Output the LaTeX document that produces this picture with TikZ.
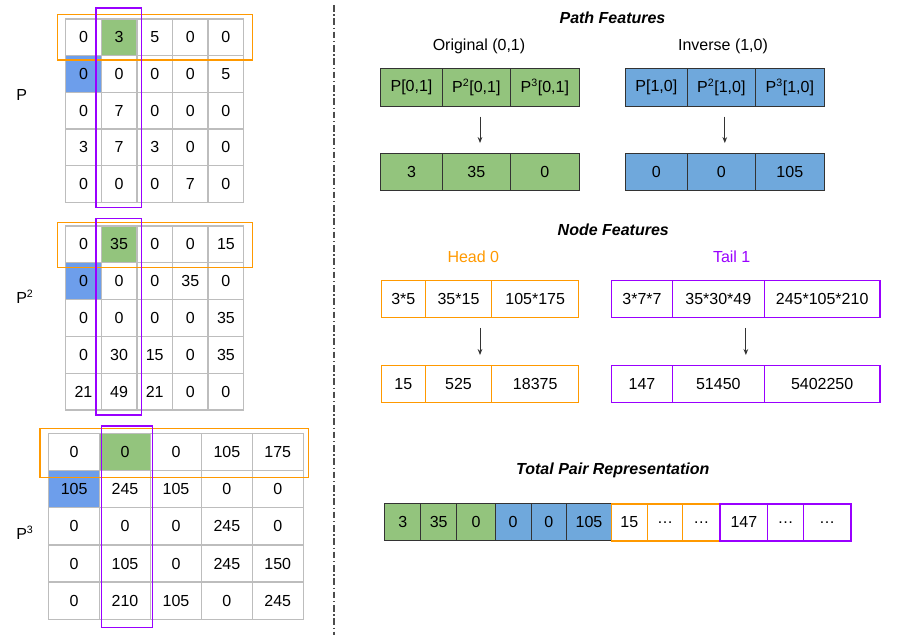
\documentclass[tikz,border=0pt]{standalone}
\usepackage{fontspec}
\setmainfont{Liberation Sans}
\usetikzlibrary{calc,arrows.meta}
\definecolor{gfill}{HTML}{93C47D}
\definecolor{bfill}{HTML}{6FA8DC}
\definecolor{bcell}{HTML}{6D9EEB}
\definecolor{orng}{HTML}{FF9900}
\definecolor{purp}{HTML}{9900FF}
\definecolor{gridc}{HTML}{BDBDBD}
\definecolor{darkln}{HTML}{333333}
\newcommand\px{0.75pt}
\newcommand\fs{\fontsize{12}{14}\selectfont}
% matrix: name, x0, y0, cell w, cell h, rows
\newcommand\drawmat[6]{%
  \foreach \rowvals [count=\r from 0] in {#6} {
    \foreach \v [count=\c from 0] in \rowvals {
      \def\cf{none}%
      \ifnum\r\c=1 \def\cf{gfill}\fi
      \ifnum\r\c=10 \def\cf{bcell}\fi
      \node[mcell, fill=\cf, minimum width=#4*\px, minimum height=#5*\px]
        (#1-\r-\c) at ({#2+(\c+0.5)*#4},{#3+(\r+0.5)*#5}) {\v};
    }
  }
  \foreach \i in {0,...,5} {
    \draw[gridln] ({#2+\i*#4},#3) -- ({#2+\i*#4},{#3+5*#5});
    \draw[gridln] (#2,{#3+\i*#5}) -- ({#2+5*#4},{#3+\i*#5});
  }
}
% box cell: style, name, x1, x2, yc, text
\newcommand\bcellnode[6]{%
  \node[#1, minimum width={(#4-#3)*\px}] (#2) at ({(#3+#4)/2},#5) {#6};
}
\begin{document}
\begin{tikzpicture}[x=0.75pt,y=-0.75pt,font=\fs,
  mcell/.style={inner sep=0pt, outer sep=0pt},
  gridln/.style={draw=gridc, line width=1pt, line cap=rect},
  boxc/.style={line width=0.75pt, inner sep=0pt, outer sep=0pt, minimum height=37*\px},
  gbox/.style={boxc, draw=darkln, fill=gfill},
  bbox/.style={boxc, draw=darkln, fill=bfill},
  obox/.style={boxc, draw=orng, line width=1.1pt},
  pbox/.style={boxc, draw=purp, line width=1.1pt},
  orect/.style={draw=orng, line width=1.1pt},
  prect/.style={draw=purp, line width=1.1pt},
  title/.style={font=\fs\bfseries\itshape},
  arr/.style={draw=darkln, line width=0.75pt, -{Stealth[length=4.5pt,width=3.5pt]}, shorten <=8pt, shorten >=8pt},
  dashdot/.style={draw=black!70, line width=0.9pt, dash pattern=on 5pt off 2pt on 1pt off 2pt}]
\useasboundingbox (0,0) rectangle (913,635);

% ---------- matrices ----------
\drawmat{ma}{65.7}{19}{35.6}{36.7}{{0,3,5,0,0},{0,0,0,0,5},{0,7,0,0,0},{3,7,3,0,0},{0,0,0,7,0}}
\drawmat{mb}{65.7}{226}{35.6}{36.8}{{0,35,0,0,15},{0,0,0,35,0},{0,0,0,0,35},{0,30,15,0,35},{21,49,21,0,0}}
\drawmat{mc}{48.7}{433.3}{50.9}{37.2}{{0,0,0,105,175},{105,245,105,0,0},{0,0,0,245,0},{0,105,0,245,150},{0,210,105,0,245}}

\draw[orect] (57.3,14.3) rectangle (252.3,60);
\draw[prect] (96,8) rectangle (141.3,207.3);
\draw[orect] (57.3,222.7) rectangle (252.3,267.3);
\draw[prect] (96,218.7) rectangle (141.3,415);
\draw[orect] (40,428.3) rectangle (308.3,477.3);
\draw[prect] (101.3,426) rectangle (152.7,627.3);

\node[anchor=west, inner sep=0pt] (la) at (16,95) {P};
\node[anchor=west, inner sep=0pt] (lb) at (16,297) {P\textsuperscript{2}};
\node[anchor=west, inner sep=0pt] (lc) at (16,533) {P\textsuperscript{3}};

% ---------- divider ----------
\coordinate (d1) at (334,5);
\coordinate (d2) at (334,635);
\draw[dashdot] (d1) -- (d2);

% ---------- path features ----------
\node[title] (tpath) at (612.5,18) {Path Features};
\node (torig) at (479,46.5) {Original (0,1)};
\node (tinv) at (723,46.5) {Inverse (1,0)};

\bcellnode{gbox}{g1}{380.7}{442.3}{87.5}{P[0,1]}
\bcellnode{gbox}{g2}{442.3}{510.3}{87.5}{P\textsuperscript{2}[0,1]}
\bcellnode{gbox}{g3}{510.3}{579.3}{87.5}{P\textsuperscript{3}[0,1]}
\bcellnode{gbox}{gb1}{380.7}{442.3}{172.2}{3}
\bcellnode{gbox}{gb2}{442.3}{510.3}{172.2}{35}
\bcellnode{gbox}{gb3}{510.3}{579.3}{172.2}{0}

\bcellnode{bbox}{b1}{625.3}{687.3}{87.5}{P[1,0]}
\bcellnode{bbox}{b2}{687.3}{755.3}{87.5}{P\textsuperscript{2}[1,0]}
\bcellnode{bbox}{b3}{755.3}{824.3}{87.5}{P\textsuperscript{3}[1,0]}
\bcellnode{bbox}{bb1}{625.3}{687.3}{172.2}{0}
\bcellnode{bbox}{bb2}{687.3}{755.3}{172.2}{0}
\bcellnode{bbox}{bb3}{755.3}{824.3}{172.2}{105}

\draw[arr] ($(g1.south west)!0.5!(g3.south east)$) -- ($(gb1.north west)!0.5!(gb3.north east)$);
\draw[arr] ($(b1.south west)!0.5!(b3.south east)$) -- ($(bb1.north west)!0.5!(bb3.north east)$);

% ---------- node features ----------
\node[title] (tnode) at (613.3,230) {Node Features};
\node[text=orng] (thead) at (473.3,257) {Head 0};
\node[text=purp] (ttail) at (731.7,257) {Tail 1};

\bcellnode{obox}{o1}{381.3}{425.3}{298.8}{3*5}
\bcellnode{obox}{o2}{425.3}{491.7}{298.8}{35*15}
\bcellnode{obox}{o3}{491.7}{578.7}{298.8}{105*175}
\bcellnode{obox}{ob1}{381.3}{425.3}{384.2}{15}
\bcellnode{obox}{ob2}{425.3}{491.7}{384.2}{525}
\bcellnode{obox}{ob3}{491.7}{578.7}{384.2}{18375}

\bcellnode{pbox}{p1}{611.7}{672.3}{298.8}{3*7*7}
\bcellnode{pbox}{p2}{672.3}{764.3}{298.8}{35*30*49}
\bcellnode{pbox}{p3}{764.3}{880}{298.8}{245*105*210}
\bcellnode{pbox}{pb1}{611.7}{672.3}{384.2}{147}
\bcellnode{pbox}{pb2}{672.3}{764.3}{384.2}{51450}
\bcellnode{pbox}{pb3}{764.3}{880}{384.2}{5402250}

\draw[arr] ($(o1.south west)!0.5!(o3.south east)$) -- ($(ob1.north west)!0.5!(ob3.north east)$);
\draw[arr] ($(p1.south west)!0.5!(p3.south east)$) -- ($(pb1.north west)!0.5!(pb3.north east)$);

% ---------- total pair representation ----------
\node[title] (ttot) at (612.8,470) {Total Pair Representation};
\bcellnode{gbox}{r1}{384.7}{420.7}{522.3}{3}
\bcellnode{gbox}{r2}{420.7}{456.7}{522.3}{35}
\bcellnode{gbox}{r3}{456.7}{495.3}{522.3}{0}
\bcellnode{bbox}{r4}{495.3}{531}{522.3}{0}
\bcellnode{bbox}{r5}{531}{566.7}{522.3}{0}
\bcellnode{bbox}{r6}{566.7}{611.3}{522.3}{105}
\bcellnode{obox}{r7}{611.3}{647.3}{522.3}{15}
\bcellnode{obox}{r8}{647.3}{682.7}{522.3}{…}
\bcellnode{obox}{r9}{682.7}{720}{522.3}{…}
\bcellnode{pbox}{r10}{720}{767.7}{522.3}{147}
\bcellnode{pbox}{r11}{767.7}{803.3}{522.3}{…}
\bcellnode{pbox}{r12}{803.3}{851}{522.3}{…}
\end{tikzpicture}
\end{document}
